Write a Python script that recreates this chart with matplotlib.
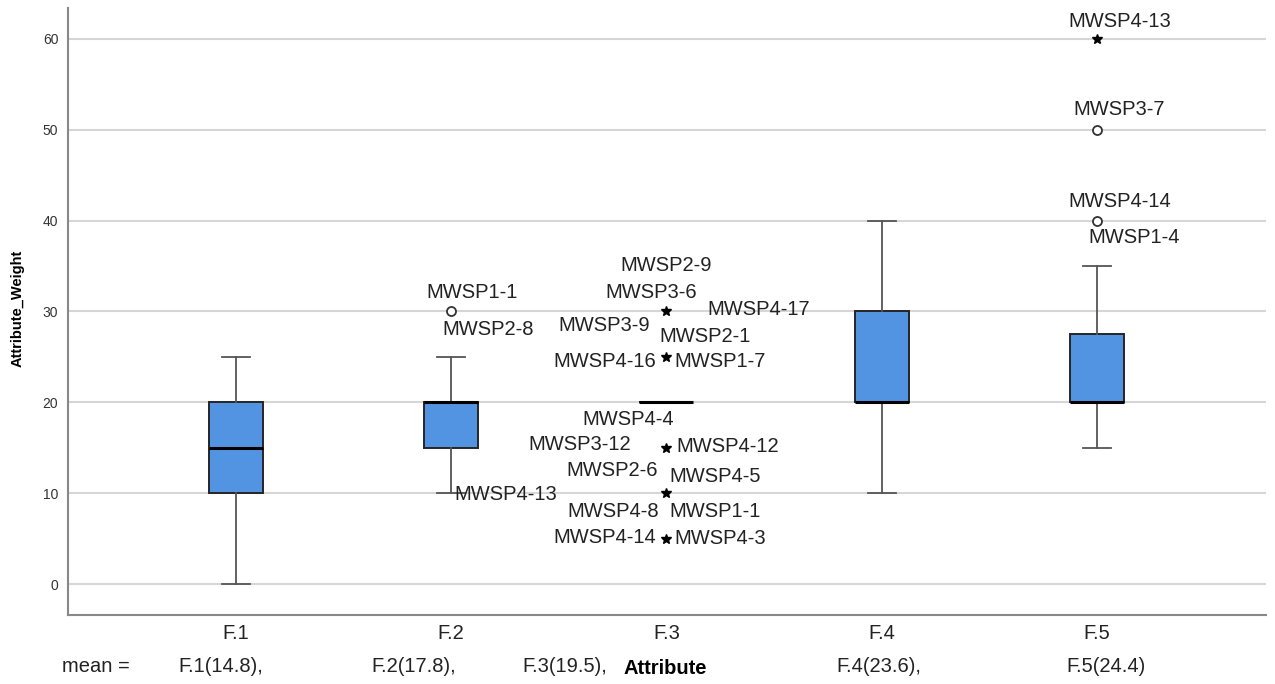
import matplotlib.pyplot as plt
import matplotlib.font_manager as fm

# box statistics per attribute
attributes = ['F.1', 'F.2', 'F.3', 'F.4', 'F.5']
q1 = [10, 15, 20, 20, 20]
medians = [15, 20, 20, 20, 20]
q3 = [20, 20, 20, 30, 27.5]
whisker_lo = [0, 10, 20, 10, 15]
whisker_hi = [25, 25, 20, 40, 35]
means = [14.8, 17.8, 19.5, 23.6, 24.4]

# outliers (circle) and extremes (star)
circle_cat = [2, 5, 5]
circle_val = [30, 50, 40]
star_cat = [3, 3, 3, 3, 3, 5]
star_val = [30, 25, 15, 10, 5, 60]

# case labels next to the outlying points
label_cat = [2, 2, 2,
             3, 3, 3, 3, 3,
             3, 3,
             3, 3, 3,
             3, 3, 3, 3,
             3, 3,
             5, 5, 5, 5]
label_val = [30, 30, 10,
             30, 30, 30, 30, 30,
             25, 25,
             15, 15, 15,
             10, 10, 10, 10,
             5, 5,
             60, 50, 40, 40]
label_text = ['MWSP1-1', 'MWSP2-8', 'MWSP4-13',
              'MWSP2-9', 'MWSP3-6', 'MWSP4-17', 'MWSP3-9', 'MWSP2-1',
              'MWSP4-16', 'MWSP1-7',
              'MWSP4-4', 'MWSP3-12', 'MWSP4-12',
              'MWSP2-6', 'MWSP4-5', 'MWSP4-8', 'MWSP1-1',
              'MWSP4-14', 'MWSP4-3',
              'MWSP4-13', 'MWSP3-7', 'MWSP4-14', 'MWSP1-4']
# label offsets in pixels from the point (x right, y up)
label_dx = [21, 37, 55,
            0, -15, 92, -62, 39,
            -62, 54,
            -38, -87, 61,
            -54, 49, -53, 49,
            -62, 54,
            23, 22, 23, 37]
label_dy = [19, -18, -1,
            46, 19, 2, -14, -25,
            -5, -5,
            28, 3, 1,
            23, 17, -18, -18,
            1, 0,
            17, 20, 19, -17]

FONT = ['Liberation Sans', 'DejaVu Sans']
narrow = 'Liberation Sans Narrow'
if narrow not in {f.name for f in fm.fontManager.ttflist}:
    narrow = None

plt.rcParams['font.family'] = FONT

fig = plt.figure(figsize=(12.75, 6.84), dpi=100)
ax = fig.add_axes([68 / 1275, 69 / 684, 1198 / 1275, 607 / 684])

positions = list(range(1, len(attributes) + 1))
stats = []
for i in range(len(attributes)):
    stats.append({'q1': q1[i], 'med': medians[i], 'q3': q3[i],
                  'whislo': whisker_lo[i], 'whishi': whisker_hi[i],
                  'fliers': []})

ax.bxp(stats, positions=positions, widths=0.251, capwidths=0.13,
       patch_artist=True, showfliers=False,
       boxprops=dict(facecolor='#5294E2', edgecolor='#262626', linewidth=1.4),
       medianprops=dict(color='black', linewidth=2.2),
       whiskerprops=dict(color='#555555', linewidth=1.3),
       capprops=dict(color='#555555', linewidth=1.3),
       zorder=3)

ax.plot(circle_cat, circle_val, linestyle='none', marker='o', markersize=6.5,
        markerfacecolor='white', markeredgecolor='#333333', markeredgewidth=1.3,
        zorder=4)
ax.plot(star_cat, star_val, linestyle='none', marker='*', markersize=7.5,
        color='black', zorder=4)

for c, v, t, dx, dy in zip(label_cat, label_val, label_text, label_dx, label_dy):
    ax.annotate(t, (c, v), xytext=(dx, dy), textcoords='offset pixels',
                ha='center', va='center', fontsize=14.5, color='#222222',
                zorder=5)

ax.set_xlim(0.22, 5.785)
ax.set_ylim(-3.4, 63.4)
ax.set_yticks(range(0, 61, 10))
ax.set_xticks(positions)
ax.set_xticklabels(attributes, fontsize=14.5, color='#222222')
ax.tick_params(axis='x', length=0, pad=6.5)
ax.tick_params(axis='y', length=0, pad=7, labelsize=10, labelcolor='#333333')

ax.yaxis.grid(True, color='#D6D6D6', linewidth=1.5, zorder=0)
ax.set_axisbelow(True)
for side in ['top', 'right']:
    ax.spines[side].set_visible(False)
for side in ['left', 'bottom']:
    ax.spines[side].set_color('#888888')
    ax.spines[side].set_linewidth(1.5)

if narrow:
    ax.set_ylabel('Attribute_Weight', fontsize=12.5, fontweight='bold',
                  family=[narrow, 'DejaVu Sans'], color='black')
else:
    ax.set_ylabel('Attribute_Weight', fontsize=10.5, fontweight='bold',
                  color='black')
ax.yaxis.set_label_coords(-43 / 1198, (684 - 308 - 69) / 607)

ax.set_xlabel('Attribute', fontsize=14.5, fontweight='bold', color='black')
ax.xaxis.label.set_va('center')
ax.xaxis.set_label_coords((665 - 68) / 1198, (684 - 668 - 69) / 607)

# footnote row with the group means
mean_x = [178, 371, 522, 836, 1066]
row_y = (684 - 667) / 684
fig.text(62 / 1275, row_y, 'mean =', fontsize=14.5, color='#222222',
         va='center')
for i, (name, m) in enumerate(zip(attributes, means)):
    sep = ',' if i < len(means) - 1 else ''
    fig.text(mean_x[i] / 1275, row_y, f'{name}({m}){sep}',
             fontsize=14.5, color='#222222', va='center')

fig.savefig('out.png', dpi=100)
